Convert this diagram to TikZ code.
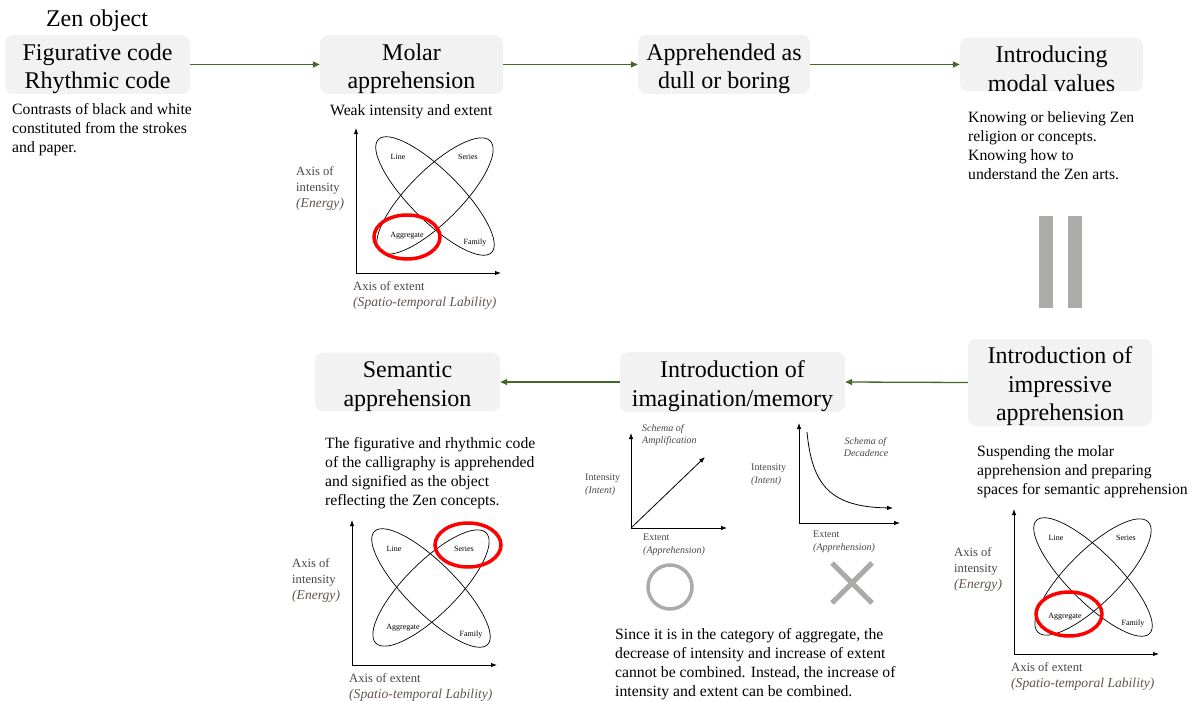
\documentclass[tikz,border=0pt]{standalone}
\usepackage{fontspec}
\setmainfont{LiberationSerif}[Extension=.ttf, UprightFont=*-Regular, ItalicFont=*-Italic, BoldFont=*-Bold, BoldItalicFont=*-BoldItalic]
\usetikzlibrary{arrows.meta}
\definecolor{boxfill}{RGB}{242,242,242}
\definecolor{arrowgreen}{RGB}{68,104,42}
\definecolor{markgray}{RGB}{173,171,170}
\definecolor{labgray}{RGB}{70,70,70}
\definecolor{labital}{RGB}{95,85,80}
\newcommand\bxs{\rule{0pt}{25pt}}
\tikzset{
 box/.style={fill=boxfill, rounded corners=8pt, align=center, font=\fontsize{24}{28.5}\selectfont, inner sep=0pt},
 flow/.style={draw=arrowgreen, line width=1.3pt, -{Triangle[length=7pt,width=6pt]}, fill=arrowgreen},
 desc/.style={anchor=north west, align=left, inner sep=0pt, font=\fontsize{15.7}{19}\selectfont},
 axlab/.style={anchor=north west, align=left, inner sep=0pt, font=\fontsize{12.6}{16}\selectfont, text=labgray},
 tinylab/.style={inner sep=0pt, font=\fontsize{8}{9}\selectfont},
 schlab/.style={anchor=north west, align=left, inner sep=0pt, font=\fontsize{10}{12.5}\selectfont, text=labgray},
 axisline/.style={line width=0.9pt, -{Latex[length=6pt,width=4.5pt]}},
 oval/.style={line width=0.7pt},
 redring/.style={draw=red, line width=3.5pt},
}
\newcommand\itl[1]{\textcolor{labital}{\fontsize{13.6}{16}\selectfont\textit{#1}}}
\newcommand\quadchart[5]{%
\begin{scope}[shift={(#1,#2)}]
 \coordinate (#3o) at (0,0);
 \coordinate (#3yt) at (0,-145);
 \coordinate (#3xr) at (145,0);
 \coordinate (#3c) at (79,-77);
 \draw[axisline] (#3o) -- (#3yt);
 \draw[axisline] (#3o) -- (#3xr);
 \draw[oval, rotate around={45:(#3c)}] (#3c) ellipse [x radius=78pt, y radius=26pt];
 \draw[oval, rotate around={-45:(#3c)}] (#3c) ellipse [x radius=80pt, y radius=25pt];
 \node[tinylab] (#3line) at (42,-116) {Line};
 \node[tinylab] (#3series) at (112,-116) {Series};
 \node[tinylab] (#3aggr) at (51,-37) {Aggregate};
 \node[tinylab] (#3family) at (119,-30) {Family};
 \draw[redring] (#4,#5) ellipse [x radius=33pt, y radius=22pt];
 \node[axlab] (#3ai) at (-60,-107) {Axis of\\intensity\\\itl{(Energy)}};
 \node[axlab] (#3ae) at (-3,8) {Axis of extent\\\itl{(Spatio-temporal Lability)}};
\end{scope}}
\begin{document}
\begin{tikzpicture}[x=1pt,y=-1pt]
\useasboundingbox (0,0) rectangle (1197,701);
% top row
\node[inner sep=0pt, font=\fontsize{24}{28}\selectfont] (zen) at (97,21) {Zen object};
\node[box, minimum width=185pt, minimum height=53pt] (b1) at (97.5,64.5) {\bxs Figurative code\\Rhythmic code};
\node[box, minimum width=183pt, minimum height=53pt] (b2) at (411.5,64.5) {\bxs Molar\\apprehension};
\node[box, minimum width=172pt, minimum height=53pt] (b3) at (724,64.5) {\bxs Apprehended as\\dull or boring};
\node[box, minimum width=183pt, minimum height=53pt] (b4) at (1051.5,64.5) {\bxs Introducing\\modal values};
\draw[flow] (b1.east) -- (b2.west);
\draw[flow] (b2.east) -- (b3.west);
\draw[flow] (b3.east) -- (b4.west);
% bottom row
\node[box, minimum width=185pt, minimum height=52pt] (b5) at (407.5,382) {\bxs Semantic\\apprehension};
\node[box, minimum width=225pt, minimum height=60pt] (b6) at (732.5,382) {\bxs Introduction of\\imagination/memory};
\node[box, minimum width=184pt, minimum height=85pt] (b7) at (1060,382.5) {\bxs Introduction of\\impressive\\apprehension};
\draw[flow] (b7.west) -- (b6.east);
\draw[flow] (b6.west) -- (b5.east);
% descriptions
\node[desc] (d1) at (12,103) {Contrasts of black and white\\constituted from the strokes\\and paper.};
\node[desc] (d2) at (330,104) {Weak intensity and extent};
\node[desc] (d4) at (968,111) {Knowing or believing Zen\\religion or concepts.\\Knowing how to\\understand the Zen arts.};
\node[desc] (d5) at (325,437) {The figurative and rhythmic code\\of the calligraphy is apprehended\\and signified as the object\\reflecting the Zen concepts.};
\node[desc] (d7) at (977,445) {Suspending the molar\\apprehension and preparing\\spaces for semantic apprehension};
\node[desc] (d6) at (615,628) {Since it is in the category of aggregate, the\\decrease of intensity and increase of extent\\cannot be combined. Instead, the increase of\\intensity and extent can be combined.};
% equals bars
\fill[markgray] (1039,216) rectangle (1053,308);
\fill[markgray] (1068,216) rectangle (1082,308);
% quad charts
\quadchart{356}{273}{qa}{51}{-36}
\quadchart{1014}{654}{qb}{55}{-40}
\quadchart{352}{665}{qc}{116}{-120}
% schema of amplification
\coordinate (sao) at (631,528);
\coordinate (sayt) at (631,433);
\coordinate (saxr) at (727,528);
\coordinate (sad) at (705,457);
\draw[axisline, line width=0.8pt] (sao) -- (sayt);
\draw[axisline, line width=0.8pt] (sao) -- (saxr);
\draw[axisline, line width=0.8pt] (sao) -- (sad);
\node[schlab] (sat) at (642,424) {\textit{Schema of}\\\textit{Amplification}};
\node[schlab] (sai) at (585,474) {Intensity\\\textit{(Intent)}};
\node[schlab] (sae) at (643,534) {Extent\\\textit{(Apprehension)}};
% schema of decadence
\coordinate (sdo) at (799,523);
\coordinate (sdyt) at (799,423);
\coordinate (sdxr) at (900,523);
\coordinate (sds) at (807,432);
\coordinate (sde) at (893,508);
\draw[axisline, line width=0.8pt] (sdo) -- (sdyt);
\draw[axisline, line width=0.8pt] (sdo) -- (sdxr);
\draw[axisline, line width=0.8pt] (sds) .. controls (812,485) and (830,507) .. (sde);
\node[schlab, anchor=north, align=center] (sdt) at (866,437) {\textit{Schema of}\\\textit{Decadence}};
\node[schlab] (sdi) at (751,464) {Intensity\\\textit{(Intent)}};
\node[schlab] (sdex) at (813,531) {Extent\\\textit{(Apprehension)}};
% circle and cross
\draw[markgray, line width=3.5pt] (670,587) circle [radius=22pt];
\draw[markgray, line width=5pt] (832,563) -- (872,603);
\draw[markgray, line width=5pt] (832,603) -- (872,563);
\end{tikzpicture}
\end{document}
